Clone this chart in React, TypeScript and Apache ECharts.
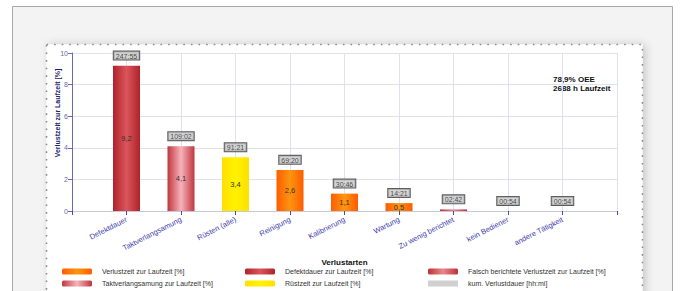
import React, { useEffect, useRef } from "react";
import * as echarts from "echarts";

const categories = [
  "Defektdauer",
  "Taktverlangsamung",
  "Rüsten (alle)",
  "Reinigung",
  "Kalibrierung",
  "Wartung",
  "Zu wenig berichtet",
  "kein Bediener",
  "andere Tätigkeit",
];
const verlustzeit = [null, null, null, 2.6, 1.1, 0.5, null, 0, 0];
const defektdauer = [9.2, null, null, null, null, null, null, null, null];
const falschBerichtet = [null, null, null, null, null, null, 0.1, null, null];
const taktverlangsamung = [null, 4.1, null, null, null, null, null, null, null];
const ruestzeit = [null, null, 3.4, null, null, null, null, null, null];
const kumLabels = ["247:55", "109:02", "91:21", "69:20", "30:46", "14:21", "02:42", "00:54", "00:54"];
const yTicks = [0, 2, 4, 6, 8, 10];

const FONT = "Liberation Sans";

const grad = (edge: string, mid: string) =>
  new echarts.graphic.LinearGradient(0, 0, 1, 0, [
    { offset: 0, color: edge },
    { offset: 0.5, color: mid },
    { offset: 1, color: edge },
  ]);

const pad = (arr: (number | null)[]) => ["-", ...arr.map((v) => (v === null ? "-" : v)), "-"];

export default function App() {
  const ref = useRef<HTMLDivElement>(null);
  useEffect(() => {
    if (!ref.current) return;
    const chart = echarts.init(ref.current, null, { renderer: "svg" });
    const axisCats = [" ", ...categories, "  "];
    const totals = categories.map((_, i) =>
      [verlustzeit, defektdauer, falschBerichtet, taktverlangsamung, ruestzeit].reduce(
        (s, a) => s + (a[i] ?? 0),
        0
      )
    );
    const insideLabel = {
      show: true,
      position: "inside",
      fontSize: 7.5,
      fontFamily: FONT,
      color: "#333",
      formatter: (p: any) => (p.value > 0.3 ? String(p.value).replace(".", ",") : ""),
    };
    const barBase = {
      type: "bar",
      barWidth: 27,
      barGap: "-100%",
      label: insideLabel,
    };
    const names = {
      v: "Verlustzeit zur Laufzeit [%]",
      d: "Defektdauer zur Laufzeit [%]",
      f: "Falsch berichtete Verlustzeit zur Laufzeit [%]",
      t: "Taktverlangsamung zur Laufzeit [%]",
      r: "Rüstzeit zur Laufzeit [%]",
      k: "kum. Verlustdauer [hh:mi]",
    };
    const legendBase = {
      orient: "vertical",
      top: 268,
      height: 40,
      padding: 0,
      itemWidth: 30,
      itemHeight: 6,
      itemGap: 5,
      textStyle: { fontSize: 7, fontFamily: FONT, color: "#333", padding: [0, 0, 0, 5] },
    };
    const option: any = {
      animation: false,
      textStyle: { fontFamily: FONT },
      grid: { left: 72, right: 64, top: 53, bottom: 80 },
      graphic: [
        {
          type: "rect",
          z: -10,
          shape: { x: 12.5, y: 6.5, width: 660, height: 300 },
          style: { fill: "#f3f3f3", stroke: "#a8a8a8", lineWidth: 1 },
        },
        {
          type: "rect",
          z: -9,
          shape: { x: 46.5, y: 44.5, width: 596, height: 260 },
          style: {
            fill: "#ffffff",
            stroke: "#8a8a8a",
            lineWidth: 1.6,
            lineDash: [1.6, 6],
            shadowBlur: 8,
            shadowOffsetX: 3,
            shadowColor: "rgba(0,0,0,0.18)",
          },
        },
        {
          type: "text",
          x: 553,
          y: 75,
          style: {
            text: "78,9% OEE\n2688 h Laufzeit",
            fontSize: 8,
            fontWeight: "bold",
            fontFamily: FONT,
            fill: "#111",
            lineHeight: 9,
          },
        },
        {
          type: "text",
          x: 57,
          y: 113,
          rotation: Math.PI / 2,
          style: {
            text: "Verlustzeit zur Laufzeit [%]",
            fontSize: 7,
            fontWeight: "bold",
            fontFamily: FONT,
            fill: "#1e1e6e",
            align: "center",
            verticalAlign: "middle",
          },
        },
      ],
      legend: [
        { ...legendBase, left: 62, data: [{ name: names.v }, { name: names.t }] },
        { ...legendBase, left: 245, data: [{ name: names.d }, { name: names.r }] },
        {
          ...legendBase,
          left: 428,
          data: [{ name: names.f }, { name: names.k, icon: "rect", itemStyle: { color: "#c4c4c4" } }],
        },
      ],
      xAxis: {
        type: "category",
        data: axisCats,
        boundaryGap: false,
        name: "Verlustarten",
        nameLocation: "middle",
        nameGap: 46,
        nameTextStyle: { fontSize: 8, fontWeight: "bold", color: "#111", fontFamily: FONT },
        axisLine: { lineStyle: { color: "#c8c8dc" } },
        axisTick: { show: true, length: 4, lineStyle: { color: "#4a4aa8" } },
        axisLabel: {
          rotate: 27,
          fontSize: 7.5,
          color: "#3c3caa",
          fontFamily: FONT,
          interval: 0,
          margin: 8,
        },
        splitLine: { show: true, lineStyle: { color: "#e0e0ee" } },
      },
      yAxis: {
        type: "value",
        min: yTicks[0],
        max: yTicks[yTicks.length - 1],
        interval: 2,
        axisLine: { show: true, lineStyle: { color: "#6a6ab4" } },
        axisTick: { show: true, length: 4, lineStyle: { color: "#6a6ab4" } },
        axisLabel: { fontSize: 7, color: "#6a6aa0", fontFamily: FONT, margin: 4 },
        splitLine: { show: true, lineStyle: { color: "#e0e0ee" } },
      },
      series: [
        {
          ...barBase,
          name: names.v,
          data: pad(verlustzeit),
          itemStyle: { color: grad("#ff5c00", "#ff9510") },
        },
        {
          ...barBase,
          name: names.d,
          data: pad(defektdauer),
          itemStyle: { color: grad("#b02229", "#d9565c") },
        },
        {
          ...barBase,
          name: names.f,
          data: pad(falschBerichtet),
          itemStyle: { color: grad("#be2f36", "#e7898e") },
        },
        {
          ...barBase,
          name: names.t,
          data: pad(taktverlangsamung),
          itemStyle: { color: grad("#c0363d", "#f6b3bb") },
        },
        {
          ...barBase,
          name: names.r,
          data: pad(ruestzeit),
          itemStyle: { color: grad("#ffe000", "#fff200") },
        },
        {
          type: "scatter",
          name: names.k,
          symbol: "rect",
          symbolSize: 0.1,
          itemStyle: { color: "#c4c4c4" },
          z: 5,
          data: ["-", ...totals, "-"],
          label: {
            show: true,
            position: "top",
            distance: 6,
            fontSize: 7,
            fontFamily: FONT,
            color: "#222",
            backgroundColor: "#c9c9c9",
            borderColor: "#333",
            borderWidth: 1,
            padding: [1, 2, 0, 2],
            formatter: (p: any) => kumLabels[p.dataIndex - 1],
          },
        },
      ],
    };
    chart.setOption(option);
    return () => chart.dispose();
  }, []);
  return (
    <div
      ref={ref}
      style={{ position: "absolute", left: 0, top: 0, width: 681, height: 291, background: "#fff" }}
    />
  );
}
